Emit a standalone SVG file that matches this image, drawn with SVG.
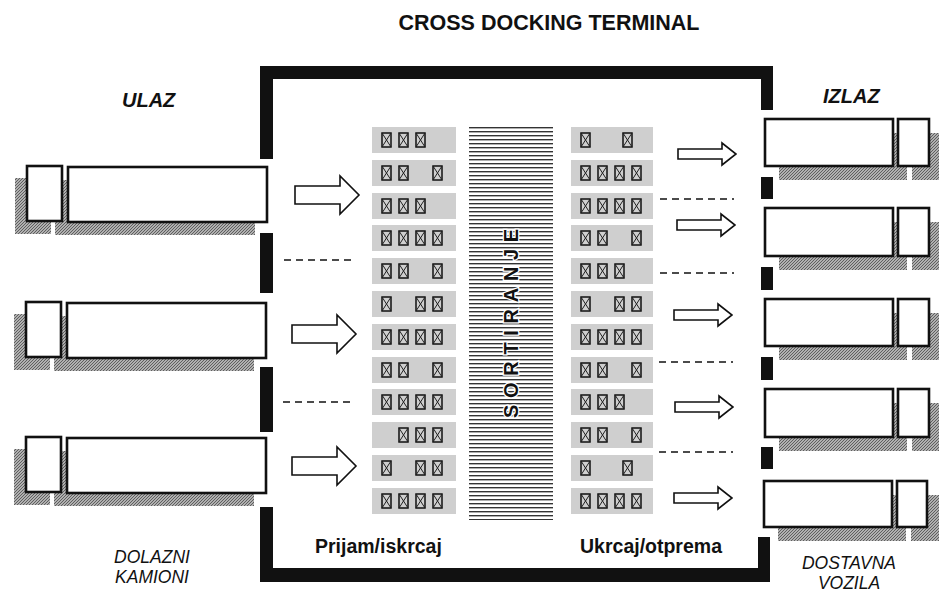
<svg xmlns="http://www.w3.org/2000/svg" xmlns:xlink="http://www.w3.org/1999/xlink" width="939" height="595" viewBox="0 0 939 595">
<style>
.wall{fill:#111}
.shadow{fill:url(#hatch)}
.truck{fill:#fff;stroke:#111;stroke-width:2.6}
.row{fill:#cfcfcf}
.arrow{fill:#fff;stroke:#111;stroke-width:1.6;stroke-linejoin:miter}
.dash{stroke:#111;stroke-width:1.6;stroke-dasharray:7 5;fill:none}
.t{font-family:"Liberation Sans",Arial,sans-serif;fill:#111}
.bi{font-weight:bold;font-style:italic;font-size:20px}
.lab{font-weight:bold;font-size:19.5px}
.it{font-style:italic;font-size:17.5px}
</style>
<defs>
<pattern id="hatch" patternUnits="userSpaceOnUse" width="3" height="3">
<rect width="3" height="3" fill="#b0b0b0"/>
<path d="M0,3 L3,0" stroke="#5e5e5e" stroke-width="1"/>
</pattern>
<pattern id="lines" patternUnits="userSpaceOnUse" x="0" y="126" width="84" height="4">
<rect y="1" width="84" height="1.4" fill="#333"/>
</pattern>
<g id="bx">
<rect x="0" y="0" width="9" height="14" fill="none" stroke="#111" stroke-width="1.5"/>
<path d="M0,0 L9,14 M9,0 L0,14" stroke="#222" stroke-width="1"/>
</g>
<path id="arrL" d="M0,-9 H45 V-19 L64,0 L45,19 V9 H0 Z"/>
<path id="arrR" d="M0,-5 H44 V-11 L58,0 L44,11 V5 H0 Z"/>
</defs>
<rect width="939" height="595" fill="#fff"/>

<text class="t" x="549" y="30" text-anchor="middle" font-size="21.5" font-weight="bold">CROSS DOCKING TERMINAL</text>

<g id="terminal">
<rect class="wall" x="260" y="66" width="513" height="13"/>
<rect class="wall" x="260" y="568" width="510" height="14"/>
<rect class="wall" x="260" y="66" width="13" height="93"/>
<rect class="wall" x="260" y="233" width="13" height="60"/>
<rect class="wall" x="260" y="367" width="13" height="65"/>
<rect class="wall" x="260" y="507" width="13" height="75"/>
<rect class="wall" x="761" y="66" width="12" height="44"/>
<rect class="wall" x="761" y="177" width="12" height="22"/>
<rect class="wall" x="761" y="267" width="12" height="23"/>
<rect class="wall" x="761" y="357" width="12" height="23"/>
<rect class="wall" x="761" y="447" width="12" height="22"/>
<rect class="wall" x="758" y="537" width="12" height="45"/>
</g>

<g id="incoming-trucks">
<g id="truck-in-1">
<rect class="shadow" x="15" y="178" width="36" height="56"/>
<rect class="shadow" x="55" y="180" width="200" height="55"/>
<rect class="truck" x="27" y="166" width="35" height="55"/>
<rect class="truck" x="68" y="167" width="199" height="55"/>
</g>
<g id="truck-in-2">
<rect class="shadow" x="14" y="314" width="36" height="56"/>
<rect class="shadow" x="54" y="316" width="200" height="55"/>
<rect class="truck" x="26" y="302" width="35" height="55"/>
<rect class="truck" x="67" y="303" width="199" height="55"/>
</g>
<g id="truck-in-3">
<rect class="shadow" x="14" y="449" width="36" height="56"/>
<rect class="shadow" x="54" y="451" width="200" height="55"/>
<rect class="truck" x="26" y="437" width="35" height="55"/>
<rect class="truck" x="67" y="438" width="199" height="55"/>
</g>
</g>

<g id="outgoing-trucks">
<g id="truck-out-1">
<rect class="shadow" x="779" y="133" width="128" height="47"/>
<rect class="shadow" x="912" y="133" width="30" height="47"/>
<rect class="truck" x="765" y="119" width="128" height="47"/>
<rect class="truck" x="898" y="119" width="31" height="47"/>
</g>
<g id="truck-out-2">
<rect class="shadow" x="779" y="222" width="128" height="48"/>
<rect class="shadow" x="912" y="222" width="30" height="48"/>
<rect class="truck" x="765" y="208" width="128" height="48"/>
<rect class="truck" x="898" y="208" width="31" height="48"/>
</g>
<g id="truck-out-3">
<rect class="shadow" x="779" y="313" width="128" height="47"/>
<rect class="shadow" x="912" y="313" width="30" height="47"/>
<rect class="truck" x="765" y="299" width="128" height="47"/>
<rect class="truck" x="898" y="299" width="31" height="47"/>
</g>
<g id="truck-out-4">
<rect class="shadow" x="779" y="403" width="128" height="48"/>
<rect class="shadow" x="912" y="403" width="30" height="48"/>
<rect class="truck" x="765" y="389" width="128" height="48"/>
<rect class="truck" x="898" y="389" width="31" height="48"/>
</g>
<g id="truck-out-5">
<rect class="shadow" x="778" y="495" width="128" height="46"/>
<rect class="shadow" x="911" y="495" width="30" height="46"/>
<rect class="truck" x="764" y="481" width="128" height="46"/>
<rect class="truck" x="897" y="481" width="30" height="46"/>
</g>
</g>

<g id="receiving">
<rect class="row" x="372" y="127" width="84" height="26"/>
<rect class="row" x="372" y="160" width="84" height="26"/>
<rect class="row" x="372" y="193" width="84" height="26"/>
<rect class="row" x="372" y="225" width="84" height="26"/>
<rect class="row" x="372" y="258" width="84" height="26"/>
<rect class="row" x="372" y="291" width="84" height="26"/>
<rect class="row" x="372" y="324" width="84" height="26"/>
<rect class="row" x="372" y="357" width="84" height="26"/>
<rect class="row" x="372" y="389" width="84" height="26"/>
<rect class="row" x="372" y="422" width="84" height="26"/>
<rect class="row" x="372" y="455" width="84" height="26"/>
<rect class="row" x="372" y="488" width="84" height="26"/>
<use href="#bx" x="382" y="133"/><use href="#bx" x="399" y="133"/><use href="#bx" x="416" y="133"/>
<use href="#bx" x="382" y="166"/><use href="#bx" x="399" y="166"/><use href="#bx" x="433" y="166"/>
<use href="#bx" x="382" y="199"/><use href="#bx" x="399" y="199"/><use href="#bx" x="416" y="199"/>
<use href="#bx" x="382" y="231"/><use href="#bx" x="399" y="231"/><use href="#bx" x="416" y="231"/><use href="#bx" x="433" y="231"/>
<use href="#bx" x="382" y="264"/><use href="#bx" x="399" y="264"/><use href="#bx" x="433" y="264"/>
<use href="#bx" x="382" y="297"/><use href="#bx" x="416" y="297"/><use href="#bx" x="433" y="297"/>
<use href="#bx" x="382" y="330"/><use href="#bx" x="399" y="330"/><use href="#bx" x="416" y="330"/><use href="#bx" x="433" y="330"/>
<use href="#bx" x="382" y="363"/><use href="#bx" x="399" y="363"/><use href="#bx" x="433" y="363"/>
<use href="#bx" x="382" y="395"/><use href="#bx" x="399" y="395"/><use href="#bx" x="416" y="395"/><use href="#bx" x="433" y="395"/>
<use href="#bx" x="399" y="428"/><use href="#bx" x="416" y="428"/><use href="#bx" x="433" y="428"/>
<use href="#bx" x="382" y="461"/><use href="#bx" x="416" y="461"/><use href="#bx" x="433" y="461"/>
<use href="#bx" x="382" y="494"/><use href="#bx" x="399" y="494"/><use href="#bx" x="416" y="494"/><use href="#bx" x="433" y="494"/>
</g>

<g id="sorting">
<rect x="469" y="126" width="84" height="394" fill="url(#lines)"/>
<text class="t" transform="translate(518,418) rotate(-90)" font-size="20" font-weight="bold" letter-spacing="6.7" stroke="#fff" stroke-width="2.5" paint-order="stroke">SORTIRANJE</text>
</g>

<g id="shipping">
<rect class="row" x="571" y="127" width="82" height="26"/>
<rect class="row" x="571" y="160" width="82" height="26"/>
<rect class="row" x="571" y="193" width="82" height="26"/>
<rect class="row" x="571" y="225" width="82" height="26"/>
<rect class="row" x="571" y="258" width="82" height="26"/>
<rect class="row" x="571" y="291" width="82" height="26"/>
<rect class="row" x="571" y="324" width="82" height="26"/>
<rect class="row" x="571" y="357" width="82" height="26"/>
<rect class="row" x="571" y="389" width="82" height="26"/>
<rect class="row" x="571" y="422" width="82" height="26"/>
<rect class="row" x="571" y="455" width="82" height="26"/>
<rect class="row" x="571" y="488" width="82" height="26"/>
<use href="#bx" x="581" y="133"/><use href="#bx" x="623" y="133"/>
<use href="#bx" x="581" y="166"/><use href="#bx" x="598" y="166"/><use href="#bx" x="615" y="166"/><use href="#bx" x="632" y="166"/>
<use href="#bx" x="581" y="199"/><use href="#bx" x="598" y="199"/><use href="#bx" x="615" y="199"/><use href="#bx" x="632" y="199"/>
<use href="#bx" x="581" y="231"/><use href="#bx" x="598" y="231"/><use href="#bx" x="632" y="231"/>
<use href="#bx" x="581" y="264"/><use href="#bx" x="598" y="264"/><use href="#bx" x="615" y="264"/>
<use href="#bx" x="581" y="297"/><use href="#bx" x="615" y="297"/><use href="#bx" x="632" y="297"/>
<use href="#bx" x="581" y="330"/><use href="#bx" x="598" y="330"/><use href="#bx" x="615" y="330"/><use href="#bx" x="632" y="330"/>
<use href="#bx" x="581" y="363"/><use href="#bx" x="598" y="363"/><use href="#bx" x="632" y="363"/>
<use href="#bx" x="581" y="395"/><use href="#bx" x="598" y="395"/><use href="#bx" x="615" y="395"/>
<use href="#bx" x="581" y="428"/><use href="#bx" x="598" y="428"/><use href="#bx" x="632" y="428"/>
<use href="#bx" x="581" y="461"/><use href="#bx" x="623" y="461"/>
<use href="#bx" x="581" y="494"/><use href="#bx" x="598" y="494"/><use href="#bx" x="615" y="494"/><use href="#bx" x="632" y="494"/>
</g>

<g id="connectors">
<use href="#arrL" class="arrow" x="295" y="195"/>
<use href="#arrL" class="arrow" x="292" y="334"/>
<use href="#arrL" class="arrow" x="292" y="466"/>
<use href="#arrR" class="arrow" x="678" y="154"/>
<use href="#arrR" class="arrow" x="677" y="225"/>
<use href="#arrR" class="arrow" x="674" y="315"/>
<use href="#arrR" class="arrow" x="675" y="407"/>
<use href="#arrR" class="arrow" x="674" y="498"/>
<path class="dash" d="M284,260 H356 M283,402 H355"/>
<path class="dash" d="M660,199 H734 M660,273 H734 M659,362 H733 M659,452 H733"/>
</g>

<g id="labels">
<text class="t bi" x="122" y="107">ULAZ</text>
<text class="t bi" x="823" y="103">IZLAZ</text>
<text class="t lab" x="315" y="553">Prijam/iskrcaj</text>
<text class="t lab" x="722" y="553" text-anchor="end">Ukrcaj/otprema</text>
<text class="t it" x="152" y="563" text-anchor="middle">DOLAZNI</text>
<text class="t it" x="152" y="583" text-anchor="middle">KAMIONI</text>
<text class="t it" x="849" y="569" text-anchor="middle">DOSTAVNA</text>
<text class="t it" x="849" y="589" text-anchor="middle">VOZILA</text>
</g>
</svg>
